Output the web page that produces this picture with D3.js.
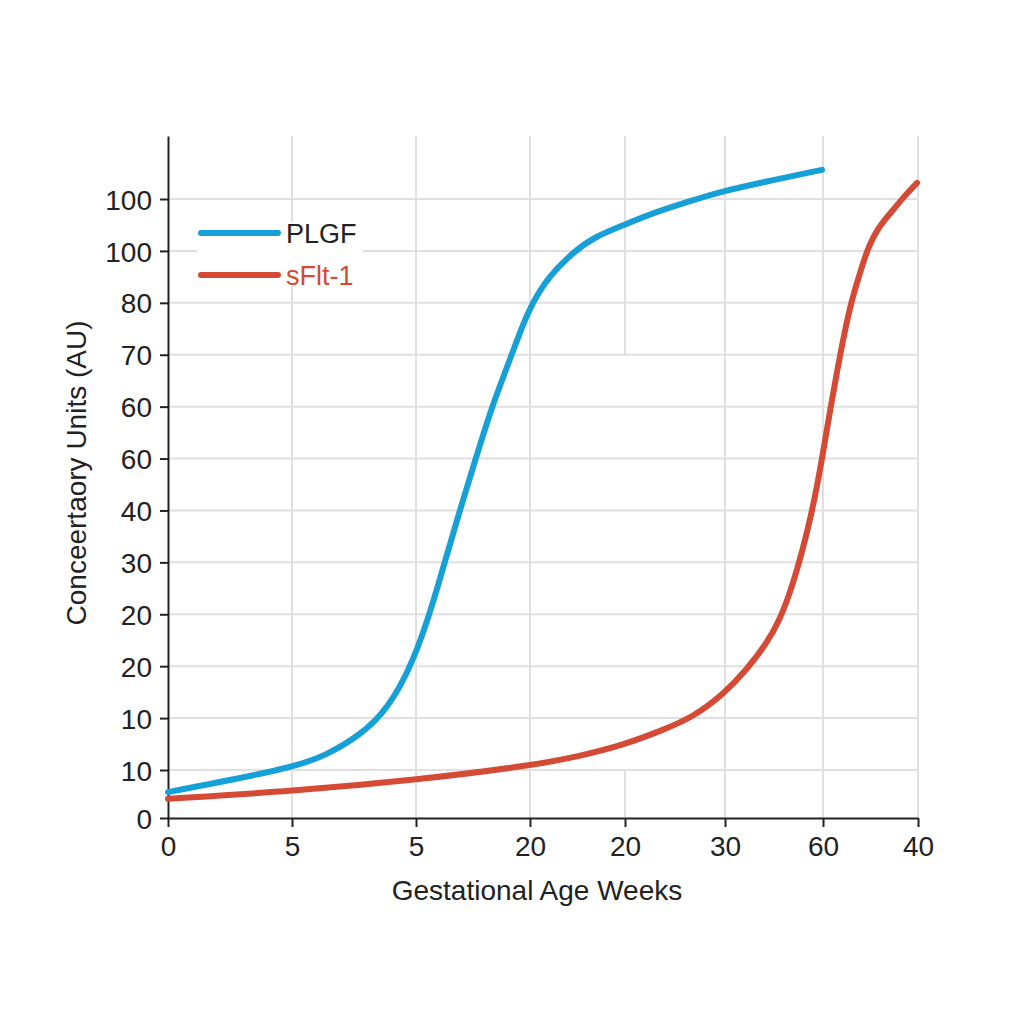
<!DOCTYPE html>
<html>
<head>
<meta charset="utf-8">
<script src="https://cdn.jsdelivr.net/npm/d3@7"></script>
<style>
  html, body { margin: 0; padding: 0; background: #fff; }
  svg { display: block; font-family: "Liberation Sans", Arial, Helvetica, sans-serif; }
</style>
</head>
<body>
<div id="chart"></div>
<script>
// tick labels as printed on the chart (positions are by index)
const xLabels = ["0", "5", "5", "20", "20", "30", "60", "40"];
const yLabels = ["0", "10", "10", "20", "20", "30", "40", "60", "60", "70", "80", "100", "100"];

// curves, in tick-index units
const plgfX = [0, 1.01, 1.28, 1.55, 1.77, 1.98, 2.15, 2.25, 2.38, 2.52, 2.66, 2.84, 2.93, 3.02, 3.19, 3.47, 3.68, 3.99, 4.28, 4.62, 4.95, 5.46, 5.99];
const plgfY = [0.54, 1.04, 1.29, 1.67, 2.16, 3.08, 4.22, 4.99, 5.97, 6.97, 7.97, 9.0, 9.54, 9.98, 10.5, 11.0, 11.27, 11.5, 11.73, 11.94, 12.14, 12.35, 12.56];

const sfltX = [0, 1.01, 1.99, 3.0, 3.53, 3.98, 4.38, 4.68, 4.98, 5.22, 5.43, 5.56, 5.69, 5.88, 5.99, 6.08, 6.18, 6.29, 6.4, 6.46, 6.58, 6.74, 6.83, 6.99];
const sfltY = [0.4, 0.56, 0.79, 1.08, 1.27, 1.48, 1.77, 2.02, 2.45, 2.93, 3.45, 3.9, 4.53, 5.86, 6.99, 7.99, 9.0, 10.0, 10.63, 11.0, 11.46, 11.79, 12.0, 12.31];

const seriesNames = ["PLGF", "sFlt-1"];
const seriesColors = ["#16a0d8", "#d44a35"];

const W = 1024, H = 1024;
const svg = d3.select("#chart").append("svg").attr("width", W).attr("height", H);

// the printed ticks are not evenly spaced, so the scales are piecewise
const x = d3.scaleLinear()
    .domain([0, 1, 2, 3, 4, 5, 6, 7])
    .range([168, 292, 416, 530, 625, 725, 823, 918]);
const y = d3.scaleLinear()
    .domain([0, 1, 12, 13.21])
    .range([818, 770, 199, 136]);

const grid = svg.append("g").attr("stroke", "#e0e0e0").attr("stroke-width", 2);

// horizontal grid
grid.selectAll("line.h")
    .data(d3.range(1, yLabels.length))
    .join("line")
    .attr("class", "h")
    .attr("x1", x(0)).attr("x2", x(7))
    .attr("y1", d => y(d)).attr("y2", d => y(d));

// legend background hides the grid behind it
svg.append("rect")
    .attr("x", 197).attr("y", 222).attr("width", 166).attr("height", 64)
    .attr("fill", "#fff");

// vertical grid (the one at index 4 is broken in the middle)
const vSegs = [];
d3.range(1, xLabels.length).forEach(i => {
    if (i === 4) {
        vSegs.push({ i, y0: 0, y1: 1 });
        vSegs.push({ i, y0: 9, y1: 13.21 });
    } else {
        vSegs.push({ i, y0: 0, y1: 13.21 });
    }
});
grid.selectAll("line.v")
    .data(vSegs)
    .join("line")
    .attr("class", "v")
    .attr("x1", d => x(d.i)).attr("x2", d => x(d.i))
    .attr("y1", d => y(d.y0)).attr("y2", d => y(d.y1));

// axes
const xAxis = svg.append("g")
    .attr("transform", `translate(0,${y(0)})`)
    .call(d3.axisBottom(x).tickValues(d3.range(xLabels.length)).tickFormat(i => xLabels[i]).tickSize(9).tickSizeOuter(0).tickPadding(9));
const yAxis = svg.append("g")
    .attr("transform", `translate(${x(0)},0)`)
    .call(d3.axisLeft(y).tickValues(d3.range(yLabels.length)).tickFormat(i => yLabels[i]).tickSize(8).tickSizeOuter(0).tickPadding(8));

[xAxis, yAxis].forEach(g => {
    g.select(".domain").attr("stroke", "#222").attr("stroke-width", 2);
    g.selectAll(".tick line").attr("stroke", "#222").attr("stroke-width", 2);
    g.selectAll(".tick text").attr("fill", "#222").style("font-size", "28px")
        .style("font-family", "'Liberation Sans', Arial, sans-serif");
});
yAxis.selectAll(".tick text").attr("dy", "0.36em");

// curves (basis smooths out the reading noise)
const line = d3.line().x(d => x(d[0])).y(d => y(d[1])).curve(d3.curveBasis);
const series = [d3.zip(plgfX, plgfY), d3.zip(sfltX, sfltY)];

svg.append("g").selectAll("path")
    .data(series)
    .join("path")
    .attr("d", line)
    .attr("fill", "none")
    .attr("stroke", (d, i) => seriesColors[i])
    .attr("stroke-width", 6)
    .attr("stroke-linecap", "round")
    .attr("stroke-linejoin", "round");

// legend
const legend = svg.append("g");
const lg = legend.selectAll("g")
    .data(seriesNames)
    .join("g")
    .attr("transform", (d, i) => `translate(201,${233 + i * 42})`);
lg.append("line")
    .attr("x1", 0).attr("x2", 77)
    .attr("stroke", (d, i) => seriesColors[i])
    .attr("stroke-width", 6)
    .attr("stroke-linecap", "round");
lg.append("text")
    .attr("x", 85).attr("dy", "0.36em")
    .style("font-size", "27px")
    .attr("fill", (d, i) => i === 0 ? "#222" : seriesColors[i])
    .text(d => d);

// axis titles
svg.append("text")
    .attr("x", 537).attr("y", 900)
    .attr("text-anchor", "middle")
    .style("font-size", "28px").attr("fill", "#222")
    .text("Gestational Age Weeks");

svg.append("text")
    .attr("transform", "translate(86,473) rotate(-90)")
    .attr("text-anchor", "middle")
    .style("font-size", "28px").attr("fill", "#222")
    .text("Conceertaory Units (AU)");
</script>
</body>
</html>
